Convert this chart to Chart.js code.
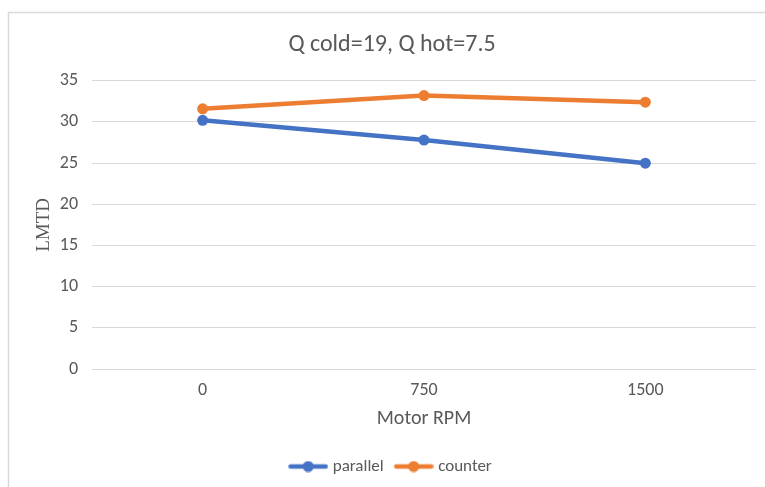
<!DOCTYPE html>
<html><head><meta charset="utf-8">
<script src="https://cdn.jsdelivr.net/npm/chart.js@4"></script>
<style>html,body{margin:0;padding:0;overflow:hidden;background:#fff;width:765px;height:487px}
#wrap{position:relative;width:790px;height:487px}</style>
</head><body>
<div id="wrap"><canvas id="c" width="790" height="487"></canvas></div>
<script>
const categories = ['0', '750', '1500'];
const parallel = [30.2, 27.8, 25.0];
const counter = [31.6, 33.2, 32.4];
const seriesNames = ['parallel', 'counter'];
const chartTitle = 'Q cold=19, Q hot=7.5';
const xTitle = 'Motor RPM';
const yTitle = 'LMTD';

const BLUE = '#4472C4', ORANGE = '#ED7D31', TXT = '#595959', GRID = '#d9d9d9';
const FONT = "Carlito, Lato, 'Open Sans', sans-serif";

function legendIcon(color){
  const cv = document.createElement('canvas'); cv.width = 40; cv.height = 12;
  const g = cv.getContext('2d');
  g.strokeStyle = color; g.lineWidth = 4.5; g.lineCap = 'round';
  g.beginPath(); g.moveTo(2.5,6); g.lineTo(37.5,6); g.stroke();
  g.fillStyle = color; g.beginPath(); g.arc(20,6,5.5,0,Math.PI*2); g.fill();
  return cv;
}

const framePlugin = {
  id: 'frame',
  beforeDraw(chart){
    const g = chart.ctx; g.save();
    g.fillStyle = '#fff'; g.fillRect(0,0,chart.width,chart.height);
    g.strokeStyle = GRID; g.lineWidth = 1.5;
    g.strokeRect(8.5, 12.5, 773, 520);
    g.restore();
  }
};

new Chart(document.getElementById('c'), {
  type: 'line',
  data: {
    labels: categories,
    datasets: [
      {label: seriesNames[0], data: parallel, borderColor: BLUE, backgroundColor: BLUE, borderWidth: 4.5, pointRadius: 5.5, pointBackgroundColor: BLUE, pointBorderWidth: 0, tension: 0},
      {label: seriesNames[1], data: counter, borderColor: ORANGE, backgroundColor: ORANGE, borderWidth: 4.5, pointRadius: 5.5, pointBackgroundColor: ORANGE, pointBorderWidth: 0, tension: 0}
    ]
  },
  options: {
    responsive: false,
    animation: false,
    devicePixelRatio: 1,
    layout: {padding: {top: 12, left: 28, right: 34, bottom: 2}},
    plugins: {
      title: {display: true, text: chartTitle, color: TXT, font: {family: FONT, size: 24, weight: 'normal'}, padding: {top: 19, bottom: 21}},
      legend: {
        position: 'bottom',
        labels: {
          color: TXT, font: {family: FONT, size: 17}, usePointStyle: true, pointStyleWidth: 32, padding: 14,
          generateLabels(chart){
            return chart.data.datasets.map((ds,i)=>({text: ds.label, fontColor: TXT, pointStyle: legendIcon(ds.borderColor), datasetIndex: i, hidden: false, lineWidth: 0, strokeStyle: ds.borderColor, fillStyle: ds.borderColor}));
          }
        }
      },
      tooltip: {enabled: false}
    },
    scales: {
      x: {
        offset: true,
        grid: {display: false, drawTicks: false},
        border: {display: false},
        ticks: {color: TXT, font: {family: FONT, size: 18}, padding: 11},
        title: {display: true, text: xTitle, color: TXT, font: {family: FONT, size: 20}, padding: {top: 0, bottom: 13}},
        afterFit(s){ s.height = 75; }
      },
      y: {
        min: 0, max: 35,
        grid: {color: GRID, lineWidth: 1, drawTicks: false},
        border: {display: false},
        ticks: {stepSize: 5, color: TXT, font: {family: FONT, size: 18}, padding: 14},
        title: {display: true, text: yTitle, color: TXT, font: {family: "'Liberation Serif', 'DejaVu Serif', serif", size: 19}, padding: {top: 5, bottom: 0}},
        afterFit(s){ s.width = 64; }
      }
    }
  },
  plugins: [framePlugin]
});
</script>
</body></html>
